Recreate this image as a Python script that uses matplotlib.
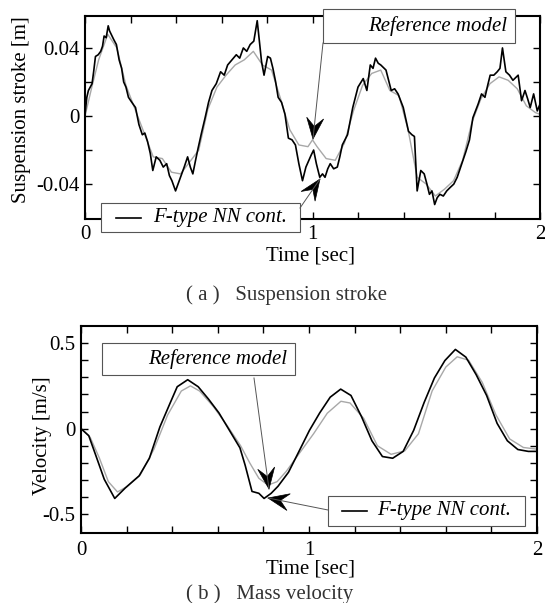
import numpy as np
import matplotlib
matplotlib.use("Agg")
import matplotlib.pyplot as plt
from matplotlib.patches import Rectangle, Polygon

# (a) suspension stroke [m] -- F-type NN controller (black trace)
stroke_t = [0.000, 0.008, 0.015, 0.023, 0.031, 0.038, 0.046, 0.058, 0.069, 0.077, 0.084, 0.093,
            0.102, 0.108, 0.115, 0.126, 0.138, 0.150, 0.161, 0.170, 0.180, 0.191, 0.206, 0.222,
            0.237, 0.252, 0.263, 0.275, 0.287, 0.298, 0.313, 0.329, 0.344, 0.359, 0.371, 0.382,
            0.398, 0.409, 0.420, 0.436, 0.451, 0.463, 0.474, 0.486, 0.497, 0.512, 0.528, 0.543,
            0.558, 0.577, 0.596, 0.612, 0.627, 0.646, 0.665, 0.680, 0.696, 0.711, 0.726, 0.742,
            0.757, 0.765, 0.776, 0.787, 0.803, 0.815, 0.826, 0.838, 0.849, 0.864, 0.879, 0.894,
            0.910, 0.925, 0.940, 0.956, 0.971, 0.994, 1.005, 1.017, 1.032, 1.044, 1.055, 1.067,
            1.078, 1.093, 1.109, 1.120, 1.131, 1.154, 1.177, 1.200, 1.223, 1.239, 1.254, 1.266,
            1.277, 1.289, 1.300, 1.323, 1.346, 1.361, 1.376, 1.399, 1.422, 1.437, 1.448, 1.460,
            1.476, 1.491, 1.503, 1.514, 1.525, 1.537, 1.548, 1.560, 1.575, 1.590, 1.605, 1.621,
            1.636, 1.651, 1.674, 1.690, 1.705, 1.728, 1.743, 1.758, 1.770, 1.781, 1.797, 1.812,
            1.824, 1.835, 1.850, 1.866, 1.881, 1.904, 1.919, 1.934, 1.946, 1.957, 1.972, 1.988,
            2.000]
stroke_nn = [0.001, 0.011, 0.015, 0.017, 0.019, 0.026, 0.035, 0.036, 0.038, 0.041, 0.047, 0.046,
             0.053, 0.050, 0.048, 0.045, 0.042, 0.033, 0.028, 0.020, 0.017, 0.011, 0.008, 0.005,
             -0.005, -0.011, -0.010, -0.015, -0.022, -0.032, -0.024, -0.026, -0.030, -0.028, -0.035,
             -0.038, -0.044, -0.040, -0.036, -0.030, -0.024, -0.030, -0.034, -0.026, -0.019, -0.010,
             -0.001, 0.008, 0.015, 0.019, 0.026, 0.024, 0.030, 0.033, 0.036, 0.034, 0.040, 0.038,
             0.042, 0.044, 0.056, 0.046, 0.032, 0.024, 0.035, 0.034, 0.028, 0.020, 0.011, 0.008,
             0.001, -0.013, -0.014, -0.017, -0.028, -0.038, -0.030, -0.023, -0.020, -0.028, -0.036,
             -0.034, -0.036, -0.031, -0.028, -0.031, -0.030, -0.024, -0.017, -0.011, 0.005, 0.017,
             0.022, 0.015, 0.030, 0.028, 0.034, 0.031, 0.030, 0.027, 0.015, 0.016, 0.013, 0.005,
             -0.009, -0.011, -0.012, -0.044, -0.032, -0.034, -0.040, -0.046, -0.044, -0.052, -0.048,
             -0.046, -0.047, -0.044, -0.042, -0.040, -0.036, -0.030, -0.021, -0.014, -0.001, 0.007,
             0.013, 0.011, 0.018, 0.024, 0.024, 0.026, 0.028, 0.040, 0.026, 0.024, 0.021, 0.024,
             0.009, 0.015, 0.010, 0.005, 0.013, 0.003, 0.007]

# (a) reference model (grey trace)
stroke_ref_t = [0.00, 0.03, 0.06, 0.10, 0.14, 0.18, 0.22, 0.26, 0.30, 0.34, 0.38, 0.42, 0.46, 0.50,
                0.54, 0.58, 0.62, 0.66, 0.70, 0.74, 0.78, 0.82, 0.86, 0.90, 0.94, 0.98, 1.00, 1.02,
                1.06, 1.10, 1.14, 1.18, 1.22, 1.26, 1.30, 1.34, 1.38, 1.42, 1.46, 1.50, 1.54, 1.58,
                1.62, 1.66, 1.70, 1.74, 1.78, 1.82, 1.86, 1.90, 1.94, 1.98, 2.00]
stroke_ref = [0.000, 0.017, 0.033, 0.048, 0.040, 0.018, 0.004, -0.010, -0.024, -0.025, -0.033,
              -0.034, -0.027, -0.020, 0.004, 0.017, 0.024, 0.030, 0.033, 0.038, 0.030, 0.027,
              0.010, -0.008, -0.017, -0.018, -0.014, -0.018, -0.025, -0.026, -0.016, 0.003,
              0.018, 0.025, 0.027, 0.015, 0.012, -0.008, -0.036, -0.040, -0.047, -0.043, -0.038,
              -0.026, -0.004, 0.010, 0.019, 0.023, 0.021, 0.016, 0.006, 0.002, 0.001]

# (b) mass velocity [m/s]
vel_t = [0.000, 0.034, 0.064, 0.102, 0.148, 0.194, 0.255, 0.300, 0.346, 0.392, 0.422, 0.468,
         0.514, 0.559, 0.605, 0.651, 0.697, 0.720, 0.750, 0.780, 0.803, 0.834, 0.864, 0.910,
         0.956, 1.002, 1.047, 1.093, 1.139, 1.184, 1.230, 1.276, 1.322, 1.367, 1.413, 1.459,
         1.505, 1.550, 1.596, 1.642, 1.688, 1.733, 1.779, 1.825, 1.870, 1.916, 1.962, 2.000]
vel_nn = [0.000, -0.041, -0.153, -0.296, -0.408, -0.347, -0.276, -0.173, 0.010, 0.153, 0.245,
          0.286, 0.245, 0.173, 0.092, -0.010, -0.112, -0.214, -0.367, -0.378, -0.408, -0.378,
          -0.337, -0.255, -0.133, -0.010, 0.092, 0.184, 0.231, 0.194, 0.071, -0.071, -0.163,
          -0.173, -0.133, -0.010, 0.153, 0.296, 0.398, 0.463, 0.418, 0.316, 0.194, 0.031,
          -0.071, -0.122, -0.133, -0.133]
vel_ref_t = [0.00, 0.04, 0.08, 0.12, 0.16, 0.20, 0.26, 0.32, 0.38, 0.44, 0.48, 0.52, 0.58, 0.64,
             0.70, 0.74, 0.78, 0.82, 0.86, 0.90, 0.96, 1.02, 1.08, 1.14, 1.18, 1.24, 1.30, 1.36,
             1.42, 1.48, 1.54, 1.60, 1.65, 1.70, 1.76, 1.82, 1.88, 1.94, 2.00]
vel_ref = [0.00, -0.05, -0.17, -0.31, -0.37, -0.34, -0.27, -0.12, 0.08, 0.22, 0.25, 0.22, 0.13,
           0.02, -0.10, -0.20, -0.29, -0.33, -0.31, -0.25, -0.14, -0.03, 0.09, 0.16, 0.15, 0.06,
           -0.10, -0.15, -0.13, -0.03, 0.22, 0.36, 0.42, 0.40, 0.27, 0.08, -0.06, -0.11, -0.12]

W, H = 545, 603
plt.rcParams['font.family'] = ['Liberation Serif', 'DejaVu Serif']


def style_axes(ax, ylim, yticks, ylabels, xpad):
    ax.set_xlim(0, 2)
    ax.set_ylim(*ylim)
    ax.set_xticks(np.linspace(0, 2, 11))
    ax.set_xticklabels(['0', '', '', '', '', '1', '', '', '', '', '2'])
    ax.set_yticks(yticks)
    ax.set_yticklabels(ylabels)
    ax.tick_params(direction='in', top=True, right=True, length=5, width=1.0,
                   labelsize=15, colors='black')
    ax.tick_params(axis='y', pad=4)
    ax.tick_params(axis='x', pad=xpad)
    for s in ax.spines.values():
        s.set_linewidth(1.5)


def arrow_head(ov, tail, tip, length=21, width=17):
    tail = np.array(tail, float)
    tip = np.array(tip, float)
    d = (tip - tail) / np.linalg.norm(tip - tail)
    n = np.array([-d[1], d[0]])
    base = tip - length * d
    notch = tip - 0.6 * length * d
    pts = [tip, base + n * width / 2, notch, base - n * width / 2]
    ov.add_patch(Polygon(pts, closed=True, fc='black', ec='black', lw=0.5))


def arrow(ov, start, tip):
    ov.plot([start[0], tip[0]], [start[1], tip[1]], color='#555555', lw=0.7)
    arrow_head(ov, start, tip)


def legend_box(ov, x0, y0, x1, y1, text, line=None, tx=None, ha='right'):
    ov.add_patch(Rectangle((x0, y0), x1 - x0, y1 - y0, fc='white', ec='#555555', lw=0.8))
    yc = (y0 + y1) / 2
    if line is not None:
        ov.plot(line, [yc, yc], color='black', lw=1.2)
    ov.text(tx, yc, text, style='italic', fontsize=15, ha=ha, va='center')


fig = plt.figure(figsize=(W / 100, H / 100), dpi=100)
ax1 = fig.add_axes([85 / W, 1 - 219 / H, 455 / W, 203.4 / H])
ax2 = fig.add_axes([81 / W, 1 - 533 / H, 456 / W, 207 / H])

ax1.plot(stroke_ref_t, stroke_ref, color='#a8a8a8', lw=1.0)
ax1.plot(stroke_t, stroke_nn, color='black', lw=1.2)
style_axes(ax1, (-0.0605, 0.059), np.arange(-0.04, 0.041, 0.02),
           ['-0.04', '', '0', '', '0.04'], 4)

ax2.plot(vel_ref_t, vel_ref, color='#a8a8a8', lw=1.0)
ax2.plot(vel_t, vel_nn, color='black', lw=1.2)
style_axes(ax2, (-0.61, 0.60), np.round(np.arange(-0.5, 0.51, 0.1), 2),
           ['-0.5', '', '', '', '', '0', '', '', '', '', '0.5'], 6)

# overlay in pixel coordinates for labels, legend boxes and arrows
ov = fig.add_axes([0, 0, 1, 1], zorder=5)
ov.set_xlim(0, W)
ov.set_ylim(H, 0)
ov.axis('off')
ov.patch.set_alpha(0)

ov.text(22, 110, 'Suspension stroke [m]', rotation=90, fontsize=15, ha='center', va='center')
ov.text(310, 256, 'Time [sec]', fontsize=15, ha='center', va='center')
ov.text(186, 295, '( a )   Suspension stroke', fontsize=15, ha='left', va='center', color='#333333')

ov.text(42, 436, 'Velocity [m/s]', rotation=90, fontsize=15, ha='center', va='center')
ov.text(311, 569, 'Time [sec]', fontsize=15, ha='center', va='center')
ov.text(186, 594, '( b )   Mass velocity', fontsize=15, ha='left', va='center', color='#333333')

legend_box(ov, 323, 9, 515, 43, 'Reference model', tx=507, ha='right')
arrow(ov, (323, 43), (313, 139))
legend_box(ov, 101, 203, 300, 232, 'F-type NN cont.', line=[116, 141], tx=153, ha='left')
arrow(ov, (300, 208), (320, 179))

legend_box(ov, 102, 343, 295, 375, 'Reference model', tx=287, ha='right')
arrow(ov, (254, 378), (269, 489))
legend_box(ov, 328, 496, 525, 526, 'F-type NN cont.', line=[342, 367], tx=377, ha='left')
arrow(ov, (328, 510), (268, 498))

fig.savefig('out.png', dpi=100)
